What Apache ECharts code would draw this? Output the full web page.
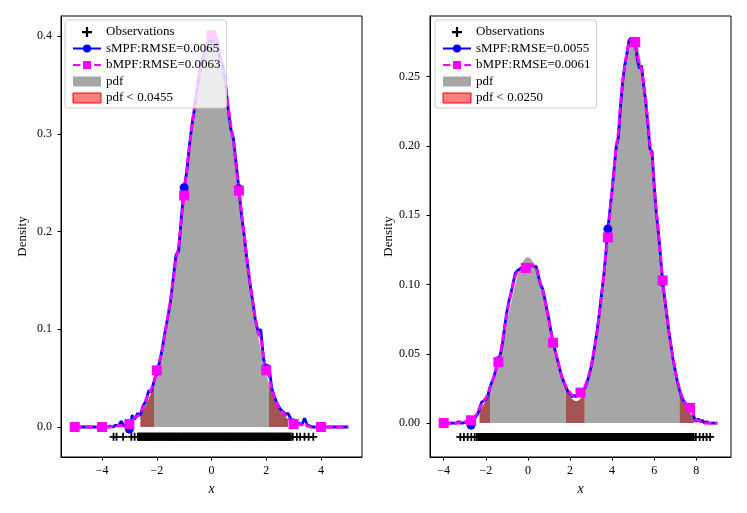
<!DOCTYPE html>
<html>
<head>
<meta charset="utf-8">
<script src="https://cdn.jsdelivr.net/npm/echarts@6.0.0/dist/echarts.min.js"></script>
<style>
  html, body { margin: 0; padding: 0; background: #fff; }
  #chart { width: 747px; height: 513px; }
</style>
</head>
<body>
<div id="chart"></div>
<script>
// ---- left panel: N(0,1) ----
const leftStart = -5, leftStep = 0.1, leftMarkEvery = 10;
const leftSmpf = [
  0, 0, 0, 0, 0, 0, 0, 0, 0, 0,
  0, 0, 0, 0.001, 0, 0.002, 0.001, 0.006, 0.001, 0.003,
  -0.002, 0.012, 0.008, 0.014, 0.012, 0.022, 0.026, 0.037, 0.036, 0.047,
  0.057, 0.066, 0.080, 0.097, 0.112, 0.128, 0.152, 0.176, 0.180, 0.215,
  0.245, 0.262, 0.290, 0.312, 0.330, 0.352, 0.368, 0.380, 0.385, 0.394,
  0.398, 0.402, 0.396, 0.378, 0.372, 0.355, 0.328, 0.306, 0.296, 0.270,
  0.244, 0.216, 0.195, 0.170, 0.148, 0.130, 0.110, 0.098, 0.100, 0.070,
  0.060, 0.063, 0.040, 0.031, 0.024, 0.019, 0.016, 0.013, 0.014, 0.008,
  0.004, 0.002, 0.004, 0.002, 0.009, 0.002, 0.001, 0, 0, 0,
  0, 0, 0, 0, 0, 0, 0, 0, 0, 0,
  0
];
const leftBmpf = [
  0, 0, 0, 0, 0, 0, 0, 0, 0, 0,
  0, 0, 0, 0, 0.001, 0, 0.002, 0.001, 0.003, 0.002,
  0.003, 0.007, 0.010, 0.011, 0.015, 0.020, 0.028, 0.033, 0.039, 0.045,
  0.058, 0.068, 0.078, 0.095, 0.113, 0.130, 0.150, 0.172, 0.185, 0.212,
  0.237, 0.265, 0.288, 0.313, 0.331, 0.350, 0.366, 0.378, 0.390, 0.396,
  0.401, 0.403, 0.398, 0.382, 0.369, 0.352, 0.331, 0.310, 0.292, 0.266,
  0.242, 0.219, 0.196, 0.172, 0.150, 0.129, 0.112, 0.096, 0.092, 0.072,
  0.058, 0.052, 0.038, 0.030, 0.023, 0.018, 0.015, 0.012, 0.010, 0.006,
  0.003, 0.002, 0.003, 0.002, 0.004, 0.001, 0, 0, 0, 0,
  0, 0, 0, 0, 0, 0, 0, 0, 0, 0,
  0
];
const leftPdfStart = -2.6;
const leftPdf = [
  0.0136, 0.0175, 0.0224, 0.0283, 0.0355, 0.0440, 0.0540, 0.0656, 0.0790, 0.0940,
  0.1109, 0.1295, 0.1497, 0.1714, 0.1942, 0.2179, 0.2420, 0.2661, 0.2897, 0.3123,
  0.3332, 0.3521, 0.3683, 0.3814, 0.3910, 0.3970, 0.3989, 0.3970, 0.3910, 0.3814,
  0.3683, 0.3521, 0.3332, 0.3123, 0.2897, 0.2661, 0.2420, 0.2179, 0.1942, 0.1714,
  0.1497, 0.1295, 0.1109, 0.0940, 0.0790, 0.0656, 0.0540, 0.0440, 0.0355, 0.0283,
  0.0224, 0.0175, 0.0136, 0.0104, 0.0079
];
const leftPdfRange = [-2.1, 2.1];
const leftLowRanges = [[-2.6, -2.1], [2.1, 2.8]];
const leftObs = [
  -3.58, -3.47, -3.23, -2.93, -2.81,
  -2.69, -2.66, -2.63, -2.60, -2.57, -2.55, -2.52, -2.49, -2.46, -2.43, -2.40, -2.38, -2.35, -2.32, -2.29, -2.26, -2.23, -2.21, -2.18, -2.15,
  -2.12, -2.09, -2.06, -2.04, -2.01, -1.98, -1.95, -1.92, -1.89, -1.87, -1.84, -1.81, -1.78, -1.75, -1.72, -1.70, -1.67, -1.64, -1.61, -1.58,
  -1.55, -1.53, -1.50, -1.47, -1.44, -1.41, -1.38, -1.36, -1.33, -1.30, -1.27, -1.24, -1.21, -1.19, -1.16, -1.13, -1.10, -1.07, -1.04, -1.02,
  -0.99, -0.96, -0.93, -0.90, -0.87, -0.85, -0.82, -0.79, -0.76, -0.73, -0.70, -0.68, -0.65, -0.62, -0.59, -0.56, -0.53, -0.51, -0.48, -0.45,
  -0.42, -0.39, -0.36, -0.34, -0.31, -0.28, -0.25, -0.22, -0.19, -0.17, -0.14, -0.11, -0.08, -0.05, -0.02, 0.00, 0.03, 0.06, 0.09, 0.12,
  0.15, 0.17, 0.20, 0.23, 0.26, 0.29, 0.32, 0.34, 0.37, 0.40, 0.43, 0.46, 0.49, 0.51, 0.54, 0.57, 0.60, 0.63, 0.66, 0.68,
  0.71, 0.74, 0.77, 0.80, 0.83, 0.85, 0.88, 0.91, 0.94, 0.97, 1.00, 1.02, 1.05, 1.08, 1.11, 1.14, 1.17, 1.19, 1.22, 1.25,
  1.28, 1.31, 1.34, 1.36, 1.39, 1.42, 1.45, 1.48, 1.51, 1.53, 1.56, 1.59, 1.62, 1.65, 1.68, 1.70, 1.73, 1.76, 1.79, 1.82,
  1.85, 1.87, 1.90, 1.93, 1.96, 1.99, 2.02, 2.04, 2.07, 2.10, 2.13, 2.16, 2.19, 2.21, 2.24, 2.27, 2.30, 2.33, 2.36, 2.38,
  2.41, 2.44, 2.47, 2.50, 2.53, 2.55, 2.58, 2.61, 2.64, 2.67, 2.70, 2.72, 2.75, 2.78, 2.81, 2.84, 2.87, 2.90,
  2.97, 3.12, 3.24, 3.40, 3.55, 3.72
];

// ---- right panel: 0.3 N(0,1) + 0.7 N(5,1) ----
const rightStart = -4, rightStep = 0.1, rightMarkEvery = 13;
const rightSmpf = [
  0, 0, 0, 0, 0, 0, 0, 0.001, 0, 0,
  0.0005, 0.001, 0, -0.0015, 0, 0.004, 0.006, 0.010, 0.015, 0.016,
  0.017, 0.020, 0.026, 0.030, 0.034, 0.040, 0.045, 0.050, 0.058, 0.070,
  0.080, 0.088, 0.094, 0.101, 0.108, 0.110, 0.111, 0.112, 0.112, 0.112,
  0.111, 0.113, 0.114, 0.113, 0.113, 0.106, 0.100, 0.097, 0.090, 0.082,
  0.075, 0.066, 0.058, 0.052, 0.046, 0.040, 0.034, 0.030, 0.026, 0.023,
  0.021, 0.019, 0.020, 0.019, 0.021, 0.022, 0.024, 0.025, 0.029, 0.034,
  0.040, 0.048, 0.058, 0.068, 0.080, 0.093, 0.106, 0.122, 0.140, 0.154,
  0.168, 0.184, 0.200, 0.206, 0.228, 0.246, 0.258, 0.266, 0.276, 0.278,
  0.276, 0.275, 0.262, 0.256, 0.258, 0.244, 0.232, 0.216, 0.198, 0.196,
  0.172, 0.152, 0.138, 0.121, 0.102, 0.090, 0.078, 0.066, 0.056, 0.046,
  0.038, 0.030, 0.024, 0.019, 0.016, 0.014, 0.013, 0.011, 0.010, 0.004,
  0.001, 0.003, 0.001, 0.002, 0, 0.001, 0, 0, 0, 0,
  0
];
const rightBmpf = [
  0, 0, 0, 0, 0, 0, 0, 0, 0.001, 0,
  0.001, 0.001, 0.001, 0.002, 0.002, 0.005, 0.007, 0.011, 0.013, 0.016,
  0.018, 0.021, 0.025, 0.029, 0.035, 0.039, 0.044, 0.051, 0.060, 0.069,
  0.078, 0.087, 0.093, 0.100, 0.106, 0.109, 0.110, 0.111, 0.112, 0.112,
  0.112, 0.113, 0.115, 0.113, 0.112, 0.107, 0.101, 0.096, 0.090, 0.082,
  0.074, 0.066, 0.058, 0.052, 0.046, 0.040, 0.034, 0.030, 0.027, 0.024,
  0.022, 0.020, 0.020, 0.020, 0.021, 0.022, 0.023, 0.026, 0.030, 0.035,
  0.041, 0.049, 0.057, 0.067, 0.079, 0.092, 0.105, 0.121, 0.134, 0.152,
  0.168, 0.185, 0.200, 0.210, 0.230, 0.246, 0.257, 0.267, 0.275, 0.277,
  0.276, 0.275, 0.265, 0.258, 0.256, 0.245, 0.233, 0.218, 0.201, 0.192,
  0.171, 0.153, 0.137, 0.120, 0.103, 0.091, 0.078, 0.066, 0.055, 0.046,
  0.038, 0.031, 0.025, 0.020, 0.016, 0.014, 0.012, 0.011, 0.009, 0.005,
  0.002, 0.002, 0.001, 0.001, 0, 0, 0, 0, 0, 0,
  0
];
const rightPdfStart = -2.3;
const rightPdf = [
  0.0085, 0.0107, 0.0132, 0.0162, 0.0197, 0.0237, 0.0282, 0.0333, 0.0389, 0.0449,
  0.0514, 0.0583, 0.0654, 0.0726, 0.0798, 0.0869, 0.0937, 0.1000, 0.1056, 0.1105,
  0.1144, 0.1173, 0.1191, 0.1197, 0.1191, 0.1173, 0.1144, 0.1105, 0.1056, 0.1000,
  0.0937, 0.0869, 0.0799, 0.0727, 0.0655, 0.0585, 0.0517, 0.0453, 0.0395, 0.0341,
  0.0294, 0.0254, 0.0220, 0.0193, 0.0174, 0.0162, 0.0158, 0.0162, 0.0176, 0.0198,
  0.0229, 0.0273, 0.0326, 0.0391, 0.0469, 0.0560, 0.0663, 0.0780, 0.0910, 0.1050,
  0.1201, 0.1360, 0.1525, 0.1694, 0.1863, 0.2028, 0.2186, 0.2332, 0.2465, 0.2578,
  0.2670, 0.2737, 0.2779, 0.2792, 0.2779, 0.2737, 0.2670, 0.2578, 0.2465, 0.2332,
  0.2186, 0.2028, 0.1863, 0.1694, 0.1525, 0.1359, 0.1200, 0.1048, 0.0907, 0.0776,
  0.0658, 0.0553, 0.0459, 0.0378, 0.0308, 0.0249, 0.0198, 0.0157, 0.0123, 0.0095,
  0.0073, 0.0055, 0.0042
];
const rightPdfRanges = [[-1.8, 1.8], [2.7, 7.2]];
const rightLowRanges = [[-2.3, -1.8], [1.8, 2.7], [7.2, 7.9]];
const rightObs = [
  -3.21, -3.04, -2.86, -2.69, -2.53, -2.43,
  -2.36, -2.33, -2.28, -2.25, -2.21, -2.16, -2.13, -2.08, -2.05, -2.01, -1.96, -1.93, -1.88, -1.85, -1.81, -1.76, -1.73, -1.68, -1.65, -1.61, -1.56, -1.53, -1.48, -1.45, -1.41,
  -1.36, -1.33, -1.28, -1.25, -1.21, -1.16, -1.13, -1.08, -1.05, -1.01, -0.96, -0.93, -0.88, -0.85, -0.81, -0.76, -0.73, -0.68, -0.65, -0.61, -0.56, -0.53, -0.48, -0.45, -0.41,
  -0.36, -0.33, -0.28, -0.25, -0.21, -0.16, -0.13, -0.08, -0.05, -0.01, 0.04, 0.07, 0.12, 0.15, 0.19, 0.24, 0.27, 0.32, 0.35, 0.39, 0.44, 0.47, 0.52, 0.55, 0.59,
  0.64, 0.67, 0.72, 0.75, 0.79, 0.84, 0.87, 0.92, 0.95, 0.99, 1.04, 1.07, 1.12, 1.15, 1.19, 1.24, 1.27, 1.32, 1.35, 1.39, 1.44, 1.47, 1.52, 1.55, 1.59,
  1.64, 1.67, 1.72, 1.75, 1.79, 1.84, 1.87, 1.92, 1.95, 1.99, 2.04, 2.07, 2.12, 2.15, 2.19, 2.24, 2.27, 2.32, 2.35, 2.39, 2.44, 2.47, 2.52, 2.55, 2.59,
  2.64, 2.67, 2.72, 2.75, 2.79, 2.84, 2.87, 2.92, 2.95, 2.99, 3.04, 3.07, 3.12, 3.15, 3.19, 3.24, 3.27, 3.32, 3.35, 3.39, 3.44, 3.47, 3.52, 3.55, 3.59,
  3.64, 3.67, 3.72, 3.75, 3.79, 3.84, 3.87, 3.92, 3.95, 3.99, 4.04, 4.07, 4.12, 4.15, 4.19, 4.24, 4.27, 4.32, 4.35, 4.39, 4.44, 4.47, 4.52, 4.55, 4.59,
  4.64, 4.67, 4.72, 4.75, 4.79, 4.84, 4.87, 4.92, 4.95, 4.99, 5.04, 5.07, 5.12, 5.15, 5.19, 5.24, 5.27, 5.32, 5.35, 5.39, 5.44, 5.47, 5.52, 5.55, 5.59,
  5.64, 5.67, 5.72, 5.75, 5.79, 5.84, 5.87, 5.92, 5.95, 5.99, 6.04, 6.07, 6.12, 6.15, 6.19, 6.24, 6.27, 6.32, 6.35, 6.39, 6.44, 6.47, 6.52, 6.55, 6.59,
  6.64, 6.67, 6.72, 6.75, 6.79, 6.84, 6.87, 6.92, 6.95, 6.99, 7.04, 7.07, 7.12, 7.15, 7.19, 7.24, 7.27, 7.32, 7.35, 7.39, 7.44, 7.47, 7.52, 7.55, 7.59,
  7.64, 7.67, 7.72, 7.75, 7.79, 7.84, 7.88,
  7.98, 8.16, 8.33, 8.49, 8.66
];

const leftNames = ['sMPF:RMSE=0.0065', 'bMPF:RMSE=0.0063', 'pdf < 0.0455'];
const rightNames = ['sMPF:RMSE=0.0055', 'bMPF:RMSE=0.0061', 'pdf < 0.0250'];
const obsY = -0.01;

const SERIF = '"Liberation Serif", "DejaVu Serif", serif';
const PLUS = 'path://M-0.9,-4H0.9V-0.9H4V0.9H0.9V4H-0.9V0.9H-4V-0.9H-0.9Z';

function xAt(start, step, i) { return Math.round((start + i * step) * 100) / 100; }

// line points, with a marker only every n-th point
function curve(start, step, ys, every) {
  return ys.map((y, i) => {
    const item = { value: [xAt(start, step, i), y] };
    if (i % every !== 0 || i + every > ys.length) item.symbol = 'none';
    return item;
  });
}

function segment(start, step, ys, lo, hi) {
  const out = [];
  ys.forEach((y, i) => {
    const x = xAt(start, step, i);
    if (x >= lo - 1e-6 && x <= hi + 1e-6) out.push([x, y]);
  });
  return out;
}

function fillSeries(name, idx, data, color) {
  return {
    name: name, type: 'line', xAxisIndex: idx, yAxisIndex: idx,
    data: data, symbol: 'none', silent: true,
    lineStyle: { width: 0 },
    itemStyle: { color: color },
    areaStyle: { color: color, opacity: 1 }
  };
}

function panelSeries(idx, names, start, step, smpf, bmpf, every, pdfStart, pdf, pdfRanges, lowRanges, obs) {
  const s = [];
  pdfRanges.forEach(r => s.push(fillSeries('pdf', idx, segment(pdfStart, 0.1, pdf, r[0], r[1]), '#a6a6a6')));
  lowRanges.forEach(r => s.push(fillSeries(names[2], idx, segment(pdfStart, 0.1, pdf, r[0], r[1]), '#a65353')));
  s.push({
    name: names[0], type: 'line', xAxisIndex: idx, yAxisIndex: idx,
    data: curve(start, step, smpf, every),
    symbol: 'circle', symbolSize: 9, showSymbol: true, showAllSymbol: true,
    lineStyle: { color: '#0000ff', width: 2.8 },
    itemStyle: { color: '#0000ff' }
  });
  s.push({
    name: names[1], type: 'line', xAxisIndex: idx, yAxisIndex: idx,
    data: curve(start, step, bmpf, every),
    symbol: 'rect', symbolSize: 10, showSymbol: true, showAllSymbol: true,
    lineStyle: { color: '#ff00ff', width: 2.8, type: [7.4, 3.2] },
    itemStyle: { color: '#ff00ff' }
  });
  s.push({
    name: 'Observations', type: 'scatter', xAxisIndex: idx, yAxisIndex: idx,
    data: obs.map(v => [v, obsY]),
    symbol: PLUS, symbolSize: 8, symbolKeepAspect: true,
    itemStyle: { color: '#000', opacity: 1 }
  });
  return s;
}

function legend(left, names) {
  return {
    left: left, top: 20, orient: 'vertical',
    padding: [5.5, 6, 3.5, 7], itemGap: 3.5, itemWidth: 28, itemHeight: 10,
    backgroundColor: 'rgba(255,255,255,0.8)', borderColor: '#cccccc', borderWidth: 1, borderRadius: 3,
    selectedMode: false,
    textStyle: { fontFamily: SERIF, fontSize: 13, color: '#000', lineHeight: 13 },
    data: [
      'Observations', names[0], names[1],
      { name: 'pdf', icon: 'rect', itemStyle: { color: '#a6a6a6', borderWidth: 0 } },
      { name: names[2], icon: 'rect', itemStyle: { color: '#ff8080', borderColor: '#ff0000', borderWidth: 1 } }
    ]
  };
}

const minus = v => String(v).replace('-', '\u2212');
const axisBase = {
  type: 'value',
  axisLine: { show: true, onZero: false, lineStyle: { color: '#000', width: 1 } },
  axisTick: { show: true, length: 3.5, lineStyle: { color: '#000', width: 1 } },
  splitLine: { show: false },
  nameTextStyle: { fontFamily: SERIF, fontSize: 13, color: '#000' }
};
function xAxis(idx, min, max, ticks) {
  return Object.assign({}, axisBase, {
    gridIndex: idx, min: min, max: max,
    name: 'x', nameLocation: 'middle', nameGap: 25,
    nameTextStyle: { fontFamily: SERIF, fontSize: 14, fontStyle: 'italic', color: '#000' },
    axisTick: Object.assign({}, axisBase.axisTick, { customValues: ticks }),
    axisLabel: { customValues: ticks, margin: 8, fontFamily: SERIF, fontSize: 12, color: '#000', formatter: v => minus(v) }
  });
}
function yAxis(idx, min, max, ticks, digits, gap, margin) {
  return Object.assign({}, axisBase, {
    gridIndex: idx, min: min, max: max,
    name: 'Density', nameLocation: 'middle', nameGap: gap,
    axisTick: Object.assign({}, axisBase.axisTick, { customValues: ticks }),
    axisLabel: { customValues: ticks, margin: margin, fontFamily: SERIF, fontSize: 12, color: '#000', formatter: v => v.toFixed(digits) }
  });
}

const chart = echarts.init(document.getElementById('chart'), null, { renderer: 'canvas' });
chart.setOption({
  animation: false,
  backgroundColor: '#fff',
  grid: [
    { left: 61, right: 385, top: 16, bottom: 56, show: true, borderColor: '#000', borderWidth: 1, backgroundColor: 'transparent' },
    { left: 430, right: 16, top: 16, bottom: 56, show: true, borderColor: '#000', borderWidth: 1, backgroundColor: 'transparent' }
  ],
  legend: [legend(65, leftNames), legend(435, rightNames)],
  xAxis: [
    xAxis(0, -5.5, 5.5, [-4, -2, 0, 2, 4]),
    xAxis(1, -4.65, 9.65, [-4, -2, 0, 2, 4, 6, 8])
  ],
  yAxis: [
    yAxis(0, -0.0307, 0.4207, [0, 0.1, 0.2, 0.3, 0.4], 1, 32, 9),
    yAxis(1, -0.0245, 0.2938, [0, 0.05, 0.1, 0.15, 0.2, 0.25], 2, 32, 10)
  ],
  series: [].concat(
    panelSeries(0, leftNames, leftStart, leftStep, leftSmpf, leftBmpf, leftMarkEvery,
      leftPdfStart, leftPdf, [leftPdfRange], leftLowRanges, leftObs),
    panelSeries(1, rightNames, rightStart, rightStep, rightSmpf, rightBmpf, rightMarkEvery,
      rightPdfStart, rightPdf, rightPdfRanges, rightLowRanges, rightObs)
  )
});
</script>
</body>
</html>
